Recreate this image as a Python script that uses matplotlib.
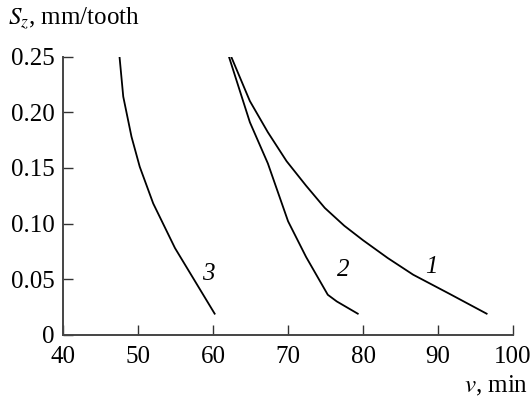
import numpy as np
import matplotlib.pyplot as plt

# curve data: cutting speed v vs feed S_z
v1 = [62.4, 64.9, 67.3, 69.8, 72.4, 74.9, 77.5, 80.0, 83.3, 86.7, 91.5, 96.5]
s1 = [0.25, 0.210, 0.182, 0.156, 0.134, 0.114, 0.098, 0.085, 0.069, 0.054, 0.037, 0.019]

v2 = [62.1, 64.9, 67.3, 70.0, 72.4, 75.3, 76.5, 79.3]
s2 = [0.25, 0.191, 0.154, 0.102, 0.070, 0.036, 0.030, 0.019]

v3 = [47.5, 48.0, 49.1, 50.2, 52.0, 54.9, 60.2]
s3 = [0.25, 0.214, 0.178, 0.151, 0.118, 0.078, 0.019]

labels = ['1', '2', '3']
label_pos = [(89.1, 0.061), (77.3, 0.058), (59.3, 0.055)]

xticks = [40, 50, 60, 70, 80, 90, 100]
yticks = [0, 0.05, 0.10, 0.15, 0.20, 0.25]
ytick_labels = ['0', '0.05', '0.10', '0.15', '0.20', '0.25']

plt.rcParams['font.family'] = ['Liberation Serif', 'DejaVu Serif']
plt.rcParams['mathtext.fontset'] = 'stix'

fig = plt.figure(figsize=(5.32, 4.01), dpi=100)
ax = fig.add_axes([0.119, 0.165, 0.845, 0.694])

for v, s in [(v1, s1), (v2, s2), (v3, s3)]:
    ax.plot(v, s, color='black', lw=1.3)

for lab, (x, y) in zip(labels, label_pos):
    ax.text(x, y, lab, fontsize=18, style='italic', ha='center', va='center')

ax.set_xlim(40, 100)
ax.set_ylim(0, 0.25)
ax.set_xticks(xticks)
ax.set_yticks(yticks)
ax.set_yticklabels(ytick_labels)
ax.tick_params(direction='in', length=7, width=1, labelsize=18, colors='#333333',
               labelcolor='black')
ax.tick_params(axis='y', pad=6)
ax.tick_params(axis='x', pad=8)
ax.spines['top'].set_visible(False)
ax.spines['right'].set_visible(False)
for side in ['left', 'bottom']:
    ax.spines[side].set_color('#444444')
    ax.spines[side].set_linewidth(1.4)

fig.text(0.015, 0.953, r'$S_z$, mm/tooth', fontsize=18, ha='left', va='center')
fig.text(0.992, 0.038, r'$v$, min', fontsize=18, ha='right', va='center')

fig.savefig('out.png', dpi=100)
